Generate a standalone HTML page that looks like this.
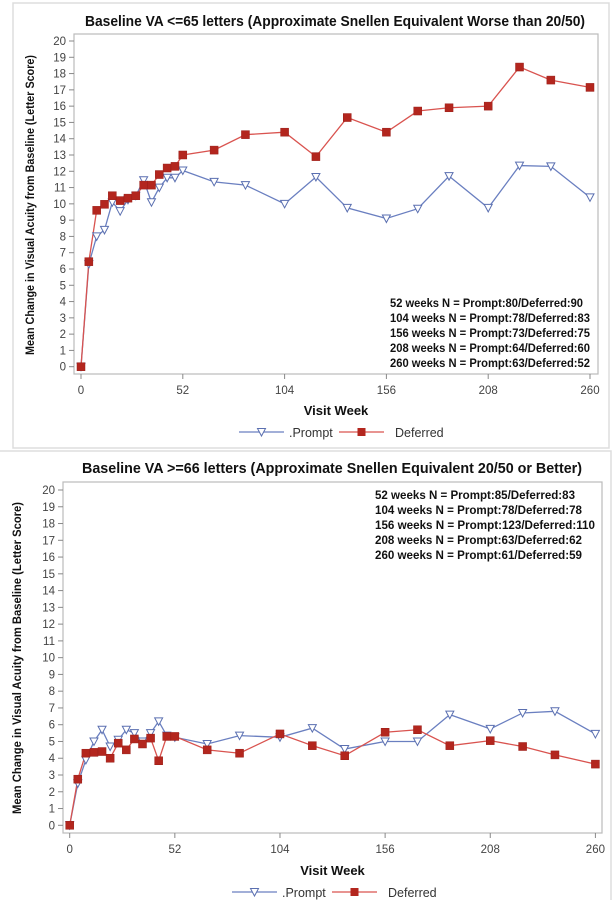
<!DOCTYPE html>
<html><head><meta charset="utf-8"><style>
body{margin:0;background:#fff;}
svg{display:block;font-family:"Liberation Sans",Arial,sans-serif;}
</style></head><body>
<svg id="root" width="613" height="900" viewBox="0 0 613 900"></svg>
<script>
const weeks=[0,4,8,12,16,20,24,28,32,36,40,44,48,52,68,84,104,120,136,156,172,188,208,224,240,260];
const xTicks=[0,52,104,156,208,260];
const yTicks=[0,1,2,3,4,5,6,7,8,9,10,11,12,13,14,15,16,17,18,19,20];
const promptTop=[0,6.3,8.0,8.4,10.1,9.55,10.25,10.5,11.45,10.1,11.0,11.6,11.6,12.05,11.35,11.15,10.0,11.65,9.75,9.1,9.7,11.7,9.75,12.35,12.3,10.4];
const deferredTop=[0,6.45,9.6,9.97,10.5,10.2,10.35,10.5,11.15,11.15,11.8,12.2,12.3,13.0,13.3,14.25,14.4,12.9,15.3,14.4,15.7,15.9,16.0,18.4,17.6,17.15];
const promptBot=[0,2.5,3.9,5.0,5.7,4.7,5.1,5.7,5.5,5.0,5.5,6.2,5.35,5.25,4.85,5.35,5.25,5.8,4.55,5.0,5.0,6.6,5.75,6.7,6.8,5.45];
const deferredBot=[0,2.75,4.3,4.35,4.4,4.0,4.9,4.5,5.15,4.85,5.2,3.85,5.3,5.3,4.5,4.3,5.45,4.75,4.15,5.55,5.7,4.75,5.05,4.7,4.2,3.65];
const notesTop=["52 weeks N = Prompt:80/Deferred:90","104 weeks N = Prompt:78/Deferred:83","156 weeks N = Prompt:73/Deferred:75","208 weeks N = Prompt:64/Deferred:60","260 weeks N = Prompt:63/Deferred:52"];
const notesBot=["52 weeks N = Prompt:85/Deferred:83","104 weeks N = Prompt:78/Deferred:78","156 weeks N = Prompt:123/Deferred:110","208 weeks N = Prompt:63/Deferred:62","260 weeks N = Prompt:61/Deferred:59"];

const NS="http://www.w3.org/2000/svg";
const root=document.getElementById('root');
function mk(tag,attrs,parent,text){const e=document.createElementNS(NS,tag);for(const k in attrs)e.setAttribute(k,attrs[k]);if(text!==undefined)e.textContent=text;(parent||root).appendChild(e);return e;}

function chart(c){
  const g=mk('g',{});
  
  
  const X=w=>c.x0+(w-0)/260*(c.x1-c.x0);
  const Y=v=>c.y0+(v-0)/20*(c.y20-c.y0);
  const border=mk('rect',{x:c.px,y:c.py,width:c.pw,height:c.ph,fill:'none',stroke:'#ddd','stroke-width':1.5},g);
  
  const t=mk('text',{x:c.tx,y:c.ty,'text-anchor':'middle','font-size':15,'font-weight':'bold',fill:'#111',textLength:c.tl,lengthAdjust:'spacingAndGlyphs'},g,c.title);
  
  const fr=mk('rect',{x:c.fl,y:c.ft,width:c.fr-c.fl,height:c.fb-c.ft,fill:'none',stroke:'#bbb','stroke-width':1.2},g);
  
  yTicks.forEach(v=>{
    mk('line',{x1:c.fl-5,x2:c.fl,y1:Y(v),y2:Y(v),stroke:'#888'},g);
    const l=mk('text',{x:c.fl-8,y:Y(v)+4,'text-anchor':'end','font-size':11.5,fill:'#444'},g,String(v));
    
  });
  xTicks.forEach(v=>{
    mk('line',{x1:X(v),x2:X(v),y1:c.fb,y2:c.fb+5,stroke:'#888'},g);
    const l=mk('text',{x:X(v),y:c.xl,'text-anchor':'middle','font-size':11.5,fill:'#444'},g,String(v));
    
  });
  const xt=mk('text',{x:(c.fl+c.fr)/2,y:c.xt,'text-anchor':'middle','font-size':13,'font-weight':'bold',fill:'#111'},g,'Visit Week');
  
  const yt=mk('text',{x:0,y:0,'text-anchor':'middle','font-size':11.5,'font-weight':'bold',fill:'#111',transform:`translate(${c.ytx},${c.yty}) rotate(-90)`,textLength:c.ytl,lengthAdjust:'spacingAndGlyphs'},g,'Mean Change in Visual Acuity from Baseline (Letter Score)');
  
  // series
  const pp=weeks.map((w,i)=>X(w)+','+Y(c.prompt[i])).join(' ');
  const pl=mk('polyline',{points:pp,fill:'none',stroke:'#6a7fc0','stroke-width':1.3},g);
  
  const dp=weeks.map((w,i)=>X(w)+','+Y(c.deferred[i])).join(' ');
  const dl=mk('polyline',{points:dp,fill:'none',stroke:'#d9534f','stroke-width':1.3},g);
  
  weeks.forEach((w,i)=>{
    const x=X(w),y=Y(c.prompt[i]);
    const m=mk('path',{d:`M${x-4},${y-3.5}L${x+4},${y-3.5}L${x},${y+4}Z`,fill:'#fff',stroke:'#5a6fb0','stroke-width':1},g);
    
  });
  weeks.forEach((w,i)=>{
    const x=X(w),y=Y(c.deferred[i]);
    const m=mk('rect',{x:x-4,y:y-4,width:8,height:8,fill:'#b3261e',stroke:'#9a1e18','stroke-width':0.5},g);
    
  });
  c.notes.forEach((n,i)=>{
    const e=mk('text',{x:c.nx,y:c.ny+i*15,'font-size':11.5,'font-weight':'bold',fill:'#111',textLength:c.nw[i],lengthAdjust:'spacingAndGlyphs'},g,n);
    
  });
  // legend
  const lg=mk('g',{},g);
  
  const ly=c.ly;
  mk('line',{x1:c.lx,x2:c.lx+45,y1:ly,y2:ly,stroke:'#6a7fc0','stroke-width':1.3},lg);
  const lx1=c.lx+22.5;
  mk('path',{d:`M${lx1-4},${ly-3.5}L${lx1+4},${ly-3.5}L${lx1},${ly+4}Z`,fill:'#fff',stroke:'#5a6fb0'},lg);
  const a=mk('text',{x:c.lx+50,y:ly+5,'font-size':12.5,fill:'#333'},lg,'.Prompt');
  
  const dx=c.lx+100;
  mk('line',{x1:dx,x2:dx+45,y1:ly,y2:ly,stroke:'#d9534f','stroke-width':1.3},lg);
  mk('rect',{x:dx+18.5,y:ly-4,width:8,height:8,fill:'#b3261e'},lg);
  const b=mk('text',{x:dx+56,y:ly+5,'font-size':12.5,fill:'#333'},lg,'Deferred');
  
}

chart({name:'chart-baseline-le65',px:13,py:3,pw:596,ph:445,
  title:'Baseline VA <=65 letters (Approximate Snellen Equivalent Worse than 20/50)',tx:335,ty:26,tl:500,
  fl:74,fr:598,ft:34,fb:374,x0:81,x1:590,y0:366.7,y20:41,xl:394,xt:415,ytx:34,yty:205,ytl:300,
  prompt:promptTop,deferred:deferredTop,notes:notesTop,nx:390,ny:307,nw:[193,200,200,200,200],lx:239,ly:432});

chart({name:'chart-baseline-ge66',px:-2,py:451,pw:613,ph:452,
  title:'Baseline VA >=66 letters (Approximate Snellen Equivalent 20/50 or Better)',tx:332,ty:473,tl:500,
  fl:63,fr:602,ft:482,fb:833,x0:69.7,x1:595.4,y0:825.3,y20:490,xl:853,xt:875,ytx:21,yty:658,ytl:312,
  prompt:promptBot,deferred:deferredBot,notes:notesBot,nx:375,ny:499,nw:[200,207,220,207,207],lx:232,ly:892});
</script>
</body></html>
